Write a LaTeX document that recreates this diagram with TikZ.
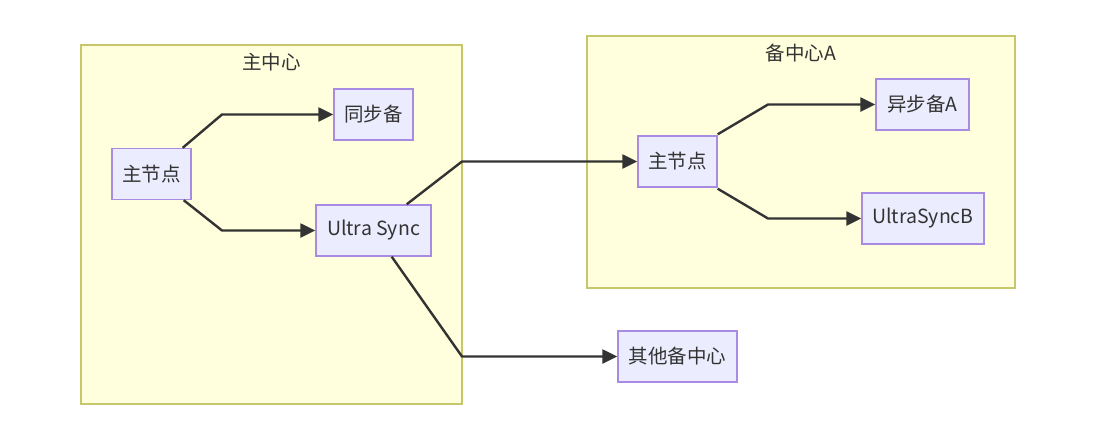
\documentclass[tikz,border=0pt]{standalone}
\usepackage{fontspec}
\setmainfont{Noto Sans CJK SC}
\usetikzlibrary{arrows.meta}
\definecolor{clfill}{HTML}{FFFFDE}
\definecolor{cldraw}{HTML}{C6C66A}
\definecolor{ndfill}{HTML}{ECECFF}
\definecolor{nddraw}{HTML}{A88BE3}
\definecolor{txt}{HTML}{333333}
\tikzset{
  cluster/.style={draw=cldraw, fill=clfill, line width=1.4pt},
  box/.style={draw=nddraw, fill=ndfill, line width=1.4pt, text=txt, font=\fontsize{19.5pt}{23pt}\selectfont, inner sep=0pt, minimum height=51pt},
  cltitle/.style={text=txt, font=\fontsize{19.5pt}{23pt}\selectfont, inner sep=0pt},
  edge/.style={draw=txt, line width=2.4pt, -{Triangle[length=15pt,width=14pt]}, line join=round}
}
\begin{document}
\begin{tikzpicture}[x=1pt,y=-1pt]
\useasboundingbox (0,0) rectangle (1119,442);
\fill[white] (0,0) rectangle (1119,442);
% clusters
\draw[cluster] (81,45) rectangle (462,404);
\node[cltitle] (t1) at (271.5,62) {主中心};
\draw[cluster] (587,36) rectangle (1015,288);
\node[cltitle] (t2) at (801,53) {备中心A};
% nodes
\node[box, minimum width=79pt] (m) at (151.5,174) {主节点};
\node[box, minimum width=79pt] (s) at (373.5,114.5) {同步备};
\node[box, minimum width=115pt] (u) at (373.5,230.5) {Ultra Sync};
\node[box, minimum width=79pt] (am) at (677.5,161.5) {主节点};
\node[box, minimum width=93pt] (aa) at (922.5,104.5) {异步备A};
\node[box, minimum width=122pt] (ab) at (923,218.5) {UltraSyncB};
\node[box, minimum width=119pt] (o) at (677.5,356.5) {其他备中心};
% bend points
\coordinate (b1) at (222,114.5);
\coordinate (b2) at (222,230.5);
\coordinate (b3) at (462,161.5);
\coordinate (b4) at (462,356.5);
\coordinate (b5) at (768,104.5);
\coordinate (b6) at (768,218.5);
% edges
\draw[edge] ([xshift=-9pt]m.north east) -- (b1) -- (s.west);
\draw[edge] ([xshift=-8pt]m.south east) -- (b2) -- (u.west);
\draw[edge] ([xshift=-25pt]u.north east) -- (b3) -- (am.west);
\draw[edge] ([xshift=-40pt]u.south east) -- (b4) -- (o.west);
\draw[edge] ([yshift=1pt]am.north east) -- (b5) -- (aa.west);
\draw[edge] ([yshift=-1pt]am.south east) -- (b6) -- (ab.west);
\end{tikzpicture}
\end{document}
